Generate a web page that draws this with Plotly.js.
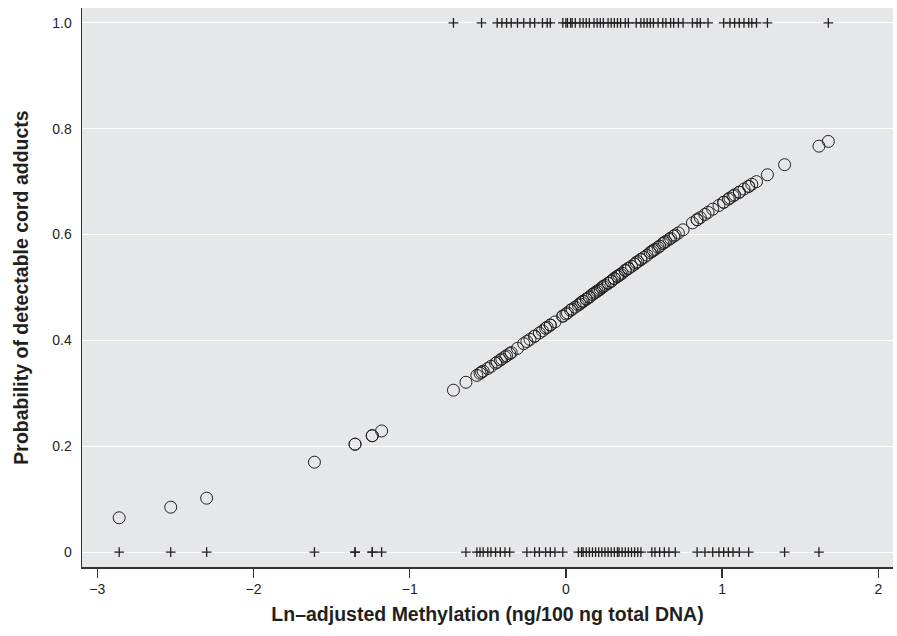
<!DOCTYPE html>
<html>
<head>
<meta charset="utf-8">
<script src="https://cdn.plot.ly/plotly-3.0.1.min.js"></script>
<style>html,body{margin:0;padding:0;background:#fff;}#chart{width:897px;height:636px;}</style>
</head>
<body>
<div id="chart"></div>
<script>
// Observations with detectable cord adducts (outcome = 1)
const detectedX = [-0.72, -0.54, -0.44, -0.41, -0.38, -0.35, -0.31, -0.27, -0.23, -0.20, -0.15, -0.12, -0.10,
  -0.02, 0.00, 0.01, 0.03, 0.04, 0.06, 0.09, 0.11, 0.13, 0.15, 0.18, 0.20, 0.22, 0.24, 0.27, 0.29, 0.31, 0.33,
  0.35, 0.38, 0.40, 0.45, 0.48, 0.50, 0.52, 0.54, 0.56, 0.59, 0.62, 0.64, 0.67, 0.69, 0.72, 0.75, 0.81, 0.84,
  0.86, 0.91, 1.01, 1.05, 1.08, 1.11, 1.14, 1.17, 1.19, 1.22, 1.29, 1.68];
const detectedP = [0.306, 0.340, 0.359, 0.365, 0.371, 0.377, 0.385, 0.394, 0.402, 0.408, 0.418, 0.425, 0.429,
  0.446, 0.450, 0.452, 0.457, 0.459, 0.463, 0.469, 0.474, 0.478, 0.482, 0.489, 0.493, 0.497, 0.502, 0.508, 0.512, 0.517, 0.521,
  0.525, 0.532, 0.536, 0.547, 0.553, 0.557, 0.561, 0.566, 0.570, 0.576, 0.583, 0.587, 0.593, 0.597, 0.603, 0.609, 0.622, 0.628,
  0.632, 0.642, 0.661, 0.669, 0.675, 0.680, 0.686, 0.691, 0.695, 0.700, 0.713, 0.776];

// Observations without detectable cord adducts (outcome = 0)
const undetectedX = [-2.86, -2.53, -2.30, -1.61, -1.35, -1.35, -1.24, -1.24, -1.18, -0.64, -0.57, -0.55, -0.53,
  -0.50, -0.48, -0.45, -0.42, -0.39, -0.36, -0.25, -0.20, -0.17, -0.13, -0.10, -0.07, -0.02, 0.08, 0.10, 0.11,
  0.13, 0.15, 0.17, 0.19, 0.21, 0.23, 0.25, 0.27, 0.29, 0.31, 0.33, 0.34, 0.36, 0.38, 0.40, 0.42, 0.44, 0.46,
  0.48, 0.55, 0.57, 0.60, 0.63, 0.66, 0.70, 0.84, 0.89, 0.94, 0.98, 1.01, 1.04, 1.07, 1.11, 1.17, 1.40, 1.62];
const undetectedP = [0.065, 0.085, 0.102, 0.170, 0.204, 0.204, 0.220, 0.220, 0.229, 0.321, 0.334, 0.338, 0.342,
  0.347, 0.351, 0.357, 0.363, 0.369, 0.375, 0.398, 0.408, 0.414, 0.423, 0.429, 0.435, 0.446, 0.467, 0.472, 0.474,
  0.478, 0.482, 0.487, 0.491, 0.495, 0.500, 0.504, 0.508, 0.512, 0.517, 0.521, 0.523, 0.527, 0.532, 0.536, 0.540, 0.544, 0.549,
  0.553, 0.568, 0.572, 0.578, 0.585, 0.591, 0.599, 0.628, 0.638, 0.648, 0.655, 0.661, 0.667, 0.673, 0.680, 0.691, 0.732, 0.767];

const xTicks = [-3, -2, -1, 0, 1, 2];
const xTickText = ['\u22123', '\u22122', '\u22121', '0', '1', '2'];
const yTicks = [0, 0.2, 0.4, 0.6, 0.8, 1.0];
const yTickText = ['0', '0.2', '0.4', '0.6', '0.8', '1.0'];

const FONT = '"Liberation Sans", Arial, sans-serif';
const INK = '#231f20';

const traces = [
  {
    x: detectedX.concat(undetectedX),
    y: detectedP.concat(undetectedP),
    type: 'scatter', mode: 'markers', name: 'Predicted probability',
    marker: {symbol: 'circle-open', size: 12, color: INK, line: {width: 1, color: INK}},
    cliponaxis: false, hoverinfo: 'x+y'
  },
  {
    x: detectedX, y: detectedX.map(() => 1),
    type: 'scatter', mode: 'markers', name: 'Detectable',
    marker: {symbol: 'cross-thin', size: 7, color: INK, line: {width: 1.3, color: INK}},
    cliponaxis: false
  },
  {
    x: undetectedX, y: undetectedX.map(() => 0),
    type: 'scatter', mode: 'markers', name: 'Not detectable',
    marker: {symbol: 'cross-thin', size: 7, color: INK, line: {width: 1.3, color: INK}},
    cliponaxis: false
  }
];

const layout = {
  width: 897, height: 636,
  margin: {l: 82, r: 4, t: 8, b: 69},
  paper_bgcolor: '#ffffff', plot_bgcolor: '#e6e7e8',
  showlegend: false,
  font: {family: FONT, color: INK, size: 13},
  xaxis: {
    range: [-3.098, 2.094], tickvals: xTicks, ticktext: xTickText,
    showgrid: false, zeroline: false,
    showline: true, linecolor: '#333333', linewidth: 1.5,
    ticks: 'outside', ticklen: 9, tickwidth: 1.5, tickcolor: '#333333',
    tickfont: {family: FONT, size: 14, color: INK},
    title: {text: '<b>Ln\u2013adjusted Methylation (ng/100 ng total DNA)</b>', font: {family: FONT, size: 19.5, color: INK}, standoff: 11}
  },
  yaxis: {
    range: [-0.028, 1.028], tickvals: yTicks, ticktext: yTickText,
    showgrid: true, gridcolor: '#ffffff', gridwidth: 1.2, zeroline: false,
    showline: true, linecolor: '#333333', linewidth: 1.5,
    ticks: '', ticklen: 0, ticklabelstandoff: 6,
    tickfont: {family: FONT, size: 14, color: INK},
    title: {text: '<b>Probability of detectable cord adducts</b>', font: {family: FONT, size: 19.5, color: INK}, standoff: 18}
  }
};

Plotly.newPlot('chart', traces, layout, {displayModeBar: false, staticPlot: true});
</script>
</body>
</html>
